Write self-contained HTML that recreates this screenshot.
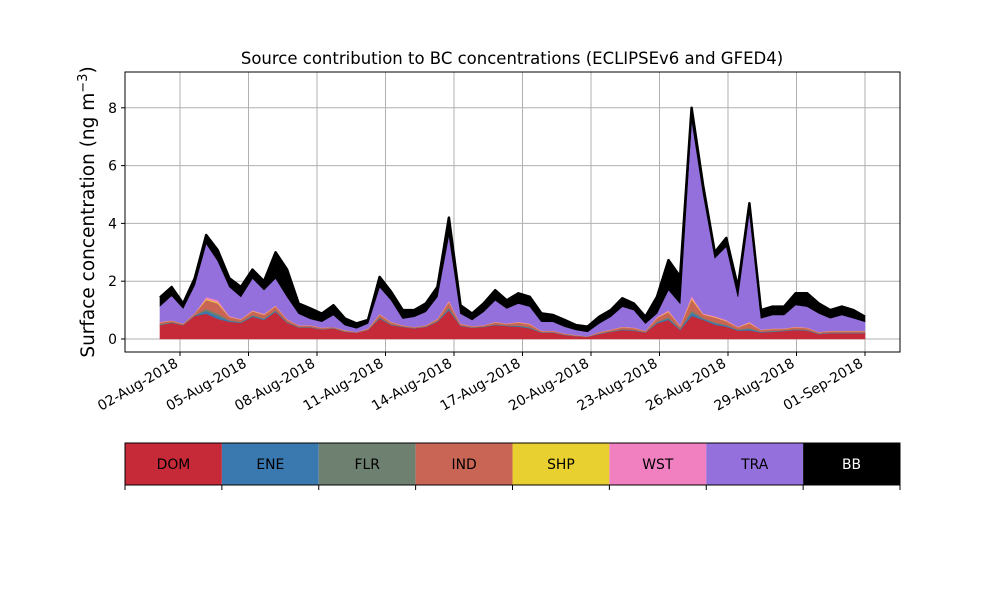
<!DOCTYPE html>
<html><head><meta charset="utf-8"><style>
body{margin:0;background:#fff}
svg{display:block;font-family:"DejaVu Sans","Liberation Sans",sans-serif}
</style></head><body>
<svg id="chart" width="1000" height="600" viewBox="0 0 1000 600"></svg>
<script>
// Data: stack tops (ng m-3) at ~half-day steps from 01-Aug 03:00 to 01-Sep
const startDay = -0.875; // days relative to 02-Aug-2018
const endDay = 30;
const domTop = [0.48,0.56,0.48,0.8,0.88,0.7,0.6,0.56,0.77,0.66,0.94,0.56,0.4,0.4,0.33,0.37,0.25,0.22,0.31,0.71,0.48,0.42,0.37,0.42,0.6,1.0,0.45,0.39,0.42,0.48,0.45,0.43,0.37,0.22,0.22,0.14,0.1,0.08,0.17,0.25,0.31,0.29,0.22,0.54,0.66,0.31,0.8,0.66,0.5,0.43,0.29,0.3,0.23,0.25,0.28,0.31,0.29,0.17,0.2,0.2,0.2,0.2];
const minorTop = [0.6,0.65,0.54,0.9,1.46,1.35,0.8,0.7,1.0,0.88,1.17,0.7,0.48,0.48,0.4,0.42,0.31,0.25,0.37,0.88,0.6,0.48,0.42,0.48,0.71,1.34,0.54,0.45,0.48,0.6,0.54,0.6,0.54,0.29,0.29,0.2,0.14,0.1,0.25,0.33,0.43,0.4,0.29,0.77,1.0,0.48,1.5,0.89,0.8,0.66,0.43,0.6,0.33,0.37,0.37,0.43,0.4,0.25,0.29,0.29,0.29,0.29];
const traTop = [1.14,1.5,1.06,1.86,3.3,2.7,1.8,1.46,2.1,1.7,2.1,1.46,0.88,0.7,0.6,0.83,0.48,0.37,0.54,1.8,1.34,0.71,0.77,0.94,1.46,3.6,0.88,0.66,0.94,1.34,1.06,1.23,1.12,0.6,0.6,0.43,0.31,0.25,0.54,0.77,1.12,1.0,0.54,0.89,1.7,1.23,7.6,5.0,2.8,3.2,1.46,4.4,0.72,0.83,0.83,1.18,1.12,0.89,0.72,0.83,0.72,0.6];
const bbTop = [1.44,1.8,1.23,2.1,3.6,3.07,2.1,1.8,2.4,2.0,3.0,2.4,1.23,1.06,0.88,1.17,0.71,0.54,0.66,2.15,1.63,1.0,1.0,1.23,1.8,4.2,1.17,0.88,1.23,1.69,1.34,1.58,1.46,0.89,0.83,0.66,0.48,0.43,0.77,1.0,1.41,1.23,0.77,1.46,2.73,2.16,8.0,5.3,3.0,3.5,1.8,4.7,1.0,1.12,1.12,1.58,1.58,1.23,1.0,1.12,1.0,0.77];
// minor source shares (ENE, FLR, IND, SHP, WST) of minorTop-domTop
const minorNames = ["ENE","FLR","IND","SHP","WST"];
const minorShare = [0.15,0.12,0.55,0.06,0.12];
const yTicks = [0,2,4,6,8];
const xTickLabels = ["02-Aug-2018","05-Aug-2018","08-Aug-2018","11-Aug-2018","14-Aug-2018","17-Aug-2018","20-Aug-2018","23-Aug-2018","26-Aug-2018","29-Aug-2018","01-Sep-2018"];
const xTickDays = [0,3,6,9,12,15,18,21,24,27,30];
const legendNames = ["DOM","ENE","FLR","IND","SHP","WST","TRA","BB"];

const colors = {DOM:"#c62a38",ENE:"#3a78b0",FLR:"#6e8070",IND:"#c86555",SHP:"#e8d030",WST:"#f080c0",TRA:"#9370db",BB:"#000000"};
const svg = document.getElementById('chart');
const NS = "http://www.w3.org/2000/svg";
const L=125,R=900,T=72,B=352;
const xs = d => 180 + d*22.833;
const ys = v => 339 - v*28.9;
function mk(tag, attrs, parent){const e=document.createElementNS(NS,tag);for(const k in attrs)e.setAttribute(k,attrs[k]);(parent||svg).appendChild(e);return e;}

const n = bbTop.length;
const step = (endDay-startDay)/(n-1);
const days = bbTop.map((_,i)=>startDay+i*step);

// grid
const grid = mk('g',{});


xTickDays.forEach(d=>mk('line',{x1:xs(d),x2:xs(d),y1:T,y2:B,stroke:'#b0b0b0','stroke-width':1},grid));
yTicks.forEach(v=>mk('line',{x1:L,x2:R,y1:ys(v),y2:ys(v),stroke:'#b0b0b0','stroke-width':1},grid));

// stacked layers
const base = days.map(()=>0);
const layers = [];
layers.push({name:'DOM',top:domTop.slice()});
let acc = domTop.slice();
minorNames.forEach((nm,k)=>{
  acc = acc.map((a,i)=>a + (minorTop[i]-domTop[i])*minorShare[k]);
  layers.push({name:nm,top:acc.slice()});
});
layers.push({name:'TRA',top:traTop.slice()});
layers.push({name:'BB',top:bbTop.slice()});
let prev = base;
layers.forEach(ly=>{
  let d = '';
  days.forEach((t,i)=>{d += (i?'L':'M')+xs(t).toFixed(1)+','+ys(ly.top[i]).toFixed(1);});
  for(let i=n-1;i>=0;i--) d += 'L'+xs(days[i]).toFixed(1)+','+ys(prev[i]).toFixed(1);
  d+='Z';
  const p = mk('path',{d:d,fill:colors[ly.name],stroke:colors[ly.name],'stroke-width':0.6});
  
  
  prev = ly.top;
});
// thick total outline
let dl='';
days.forEach((t,i)=>{dl += (i?'L':'M')+xs(t).toFixed(1)+','+ys(bbTop[i]).toFixed(1);});
const tl = mk('path',{d:dl,fill:'none',stroke:'#000','stroke-width':2.5,'stroke-linejoin':'round'});



// axes frame
const fr = mk('rect',{x:L,y:T,width:R-L,height:B-T,fill:'none',stroke:'#000','stroke-width':1});


yTicks.forEach(v=>{
  mk('line',{x1:L-4,x2:L,y1:ys(v),y2:ys(v),stroke:'#000'});
  const t = mk('text',{x:L-8,y:ys(v)+5,'text-anchor':'end','font-size':13.9});
  t.textContent=v;
  
  
});
xTickDays.forEach((d,i)=>{
  mk('line',{x1:xs(d),x2:xs(d),y1:B,y2:B+4,stroke:'#000'});
  const t = mk('text',{x:xs(d)-1,y:B+14,'text-anchor':'end','font-size':13.9,transform:`rotate(-30 ${xs(d)-1} ${B+14})`});
  t.textContent=xTickLabels[i];
  
  
});
const title = mk('text',{x:512,y:64,'text-anchor':'middle','font-size':16.5});
title.textContent='Source contribution to BC concentrations (ECLIPSEv6 and GFED4)';


const yl = mk('text',{x:94,y:212,'text-anchor':'middle','font-size':18.5,transform:'rotate(-90 94 212)'});
yl.innerHTML='Surface concentration (ng m<tspan dy="-7" font-size="13">−3</tspan><tspan dy="7">)</tspan>';



// legend color bar
const lg = mk('g',{});


const w = (R-L)/legendNames.length;
legendNames.forEach((nm,i)=>{
  const r = mk('rect',{x:L+i*w,y:443,width:w,height:42,fill:colors[nm]},lg);
  
  
  const t = mk('text',{x:L+i*w+w/2,y:469,'text-anchor':'middle','font-size':13.9,fill:nm==='BB'?'#fff':'#000'},lg);
  t.textContent=nm;
  
  
});
mk('rect',{x:L,y:443,width:R-L,height:42,fill:'none',stroke:'#000'},lg);
for(let i=0;i<=legendNames.length;i++) mk('line',{x1:L+i*w,x2:L+i*w,y1:485,y2:490,stroke:'#000'},lg);
</script>
</body></html>
